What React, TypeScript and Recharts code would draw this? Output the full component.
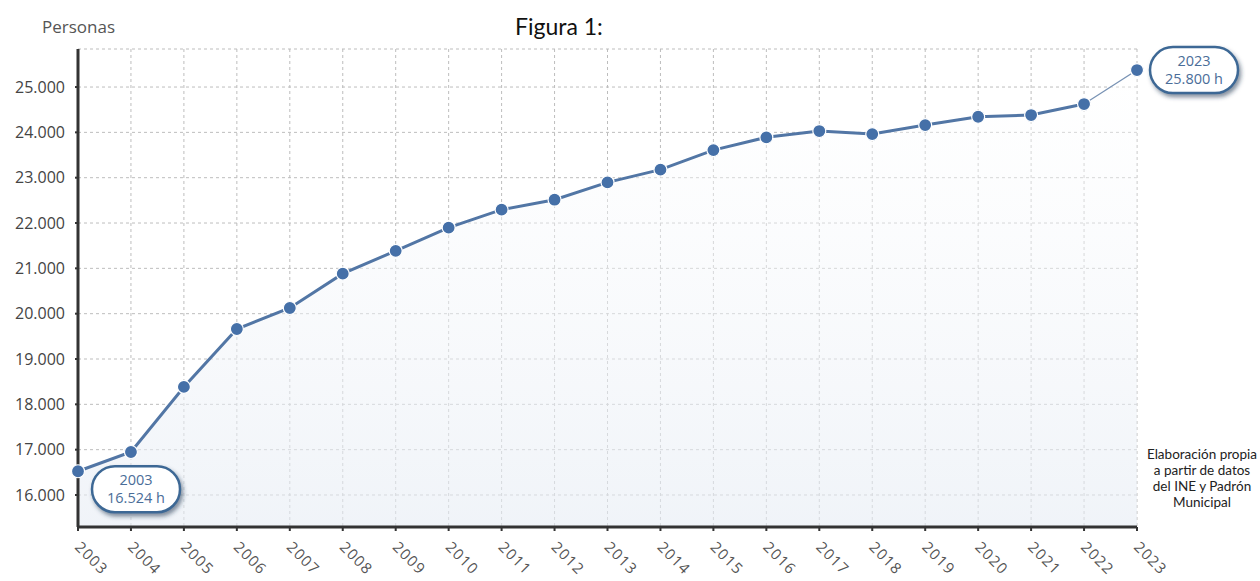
import React from "react";
import {
  ComposedChart,
  Area,
  Line,
  XAxis,
  YAxis,
  CartesianGrid,
  ReferenceDot
} from "recharts";

const years = [
  2003, 2004, 2005, 2006, 2007, 2008, 2009, 2010, 2011, 2012, 2013,
  2014, 2015, 2016, 2017, 2018, 2019, 2020, 2021, 2022, 2023
];

const population = [
  16524, 16949, 18384, 19662, 20125, 20883, 21386, 21898, 22294, 22514, 22897,
  23177, 23609, 23890, 24029, 23962, 24161, 24344, 24382, 24625, 25375
];

const yTicks = [16000, 17000, 18000, 19000, 20000, 21000, 22000, 23000, 24000, 25000];

const bubbleYears = [2003, 2023];
const bubbleLabels = ["16.524 h", "25.800 h"];

const noteLines = ["Elaboración propia", "a partir de datos", "del INE y Padrón", "Municipal"];

const lastIdx = years.length - 1;

const chartData = years.map((year, i) => ({
  year,
  all: population[i],
  main: i < lastIdx ? population[i] : null,
  tail: i >= lastIdx - 1 ? population[i] : null
}));

const fmt = (v: number) => String(v).replace(/\B(?=(\d{3})+(?!\d))/g, ".");

const FONT = "'Open Sans', 'Noto Sans', sans-serif";
const DOT = "#4570a8";

const XTick = (props: any) => {
  const { x, y, payload } = props;
  return (
    <text
      x={x - 4}
      y={y + 17}
      transform={`rotate(45, ${x - 4}, ${y + 17})`}
      fontFamily={FONT}
      fontSize={15}
      letterSpacing={1.2}
      fill="#555"
      textAnchor="start"
    >
      {payload.value}
    </text>
  );
};

const renderDot = (onlyLast: boolean) => (props: any) => {
  const { cx, cy, index, payload } = props;
  if (cx == null || cy == null) return <g key={`d-${index}`} />;
  if (onlyLast && payload.year !== years[lastIdx]) return <g key={`d-${index}`} />;
  return (
    <circle key={`d-${index}`} cx={cx} cy={cy} r={6.5} fill={DOT} stroke="#fff" strokeWidth={1.2} />
  );
};

const bubbleShape = (year: number, label: string, dx: number, dy: number) => (props: any) => {
  const { cx, cy } = props;
  const bx = cx + dx;
  const by = cy + dy;
  return (
    <g>
      <rect
        x={bx}
        y={by}
        width={88}
        height={46}
        rx={23}
        fill="#fff"
        stroke="#3d6895"
        strokeWidth={2.5}
        filter="url(#bubbleShadow)"
      />
      <text x={bx + 44} y={by + 19} textAnchor="middle" fontFamily={FONT} fontSize={14.5} fill="#4a6d98">
        {year}
      </text>
      <text x={bx + 44} y={by + 37} textAnchor="middle" fontFamily={FONT} fontSize={14.5} fill="#4a6d98">
        {label}
      </text>
    </g>
  );
};

const App: React.FC = () => {
  return (
    <div style={{ position: "absolute", left: 0, top: 0, width: 1260, height: 581, background: "#fff" }}>
      <div
        style={{
          position: "absolute",
          left: 42,
          top: 16,
          fontFamily: FONT,
          fontSize: 17,
          lineHeight: "22px",
          color: "#555"
        }}
      >
        Personas
      </div>
      <div
        style={{
          position: "absolute",
          left: 515,
          top: 12,
          fontFamily: "Lato, 'Open Sans', sans-serif",
          fontSize: 23,
          lineHeight: "28px",
          color: "#111"
        }}
      >
        Figura 1:
      </div>
      <div
        style={{
          position: "absolute",
          left: 1142,
          top: 446,
          width: 120,
          textAlign: "center",
          fontFamily: "Lato, 'Open Sans', sans-serif",
          fontSize: 13.5,
          lineHeight: "16px",
          color: "#222"
        }}
      >
        {noteLines.map((l) => (
          <div key={l}>{l}</div>
        ))}
      </div>

      <ComposedChart
        width={1260}
        height={581}
        data={chartData}
        margin={{ top: 49, right: 123, left: 0, bottom: 0 }}
        style={{ position: "absolute", left: 0, top: 0 }}
      >
        <defs>
          <linearGradient id="areaFill" x1="0" y1="0" x2="0" y2="1">
            <stop offset="0%" stopColor="#ffffff" stopOpacity={0.6} />
            <stop offset="100%" stopColor="#e6ecf4" stopOpacity={1} />
          </linearGradient>
          <filter id="bubbleShadow" x="-20%" y="-30%" width="150%" height="170%">
            <feDropShadow dx={2} dy={3} stdDeviation={2} floodColor="#1d3550" floodOpacity={0.55} />
          </filter>
        </defs>
        <CartesianGrid stroke="#bdbdbd" strokeDasharray="3 3" />
        <XAxis
          dataKey="year"
          type="number"
          domain={[years[0], years[lastIdx]]}
          ticks={years}
          interval={0}
          height={54}
          axisLine={{ stroke: "#333", strokeWidth: 3 }}
          tickLine={{ stroke: "#333", strokeWidth: 2 }}
          tickSize={4}
          tickMargin={0}
          tick={<XTick />}
        />
        <YAxis
          type="number"
          domain={[15294, 25839]}
          allowDataOverflow
          ticks={yTicks}
          width={78}
          axisLine={{ stroke: "#333", strokeWidth: 3 }}
          tickLine={{ stroke: "#333", strokeWidth: 2 }}
          tickSize={3}
          tickMargin={10}
          tickFormatter={fmt}
          tick={{ fontSize: 16, fill: "#444", fontFamily: FONT }}
        />
        <Area
          type="linear"
          dataKey="all"
          stroke="none"
          fill="url(#areaFill)"
          isAnimationActive={false}
          dot={false}
          activeDot={false}
        />
        <Line
          type="linear"
          dataKey="tail"
          stroke="#7892b4"
          strokeWidth={1.3}
          dot={renderDot(true)}
          activeDot={false}
          isAnimationActive={false}
          connectNulls={false}
        />
        <Line
          type="linear"
          dataKey="main"
          stroke="#5276a5"
          strokeWidth={3}
          dot={renderDot(false)}
          activeDot={false}
          isAnimationActive={false}
          connectNulls={false}
        />
        <ReferenceDot
          x={bubbleYears[0]}
          y={population[0]}
          r={0}
          ifOverflow="visible"
          shape={bubbleShape(bubbleYears[0], bubbleLabels[0], 14, -5)}
        />
        <ReferenceDot
          x={bubbleYears[1]}
          y={population[lastIdx]}
          r={0}
          ifOverflow="visible"
          shape={bubbleShape(bubbleYears[1], bubbleLabels[1], 13, -23)}
        />
      </ComposedChart>
    </div>
  );
};

export default App;
